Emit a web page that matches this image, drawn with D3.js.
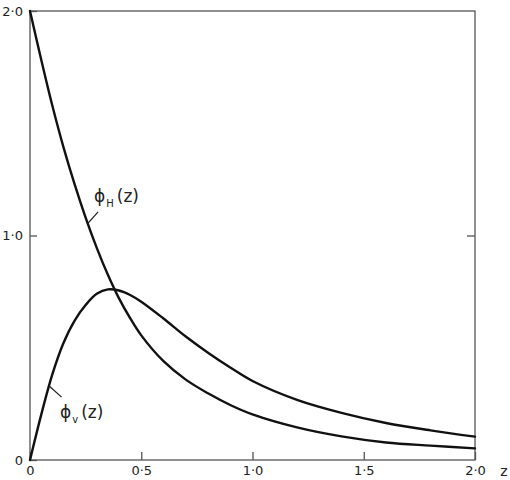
<!DOCTYPE html>
<html>
<head>
<meta charset="utf-8">
<script src="https://cdn.jsdelivr.net/npm/d3@7"></script>
<style>
  html, body { margin: 0; padding: 0; background: #fff; }
  svg { display: block; font-family: "DejaVu Sans", "Liberation Sans", sans-serif; }
</style>
</head>
<body>
<svg id="chart" width="510" height="480"></svg>
<script>
// ---- data ----
const zValues   = [0, 0.05, 0.1, 0.15, 0.2, 0.25, 0.3, 0.35, 0.4, 0.45, 0.5, 0.6, 0.7, 0.8, 0.9, 1.0, 1.2, 1.4, 1.6, 1.8, 2.0];
const phiH      = [2.0, 1.785, 1.58, 1.395, 1.23, 1.08, 0.945, 0.825, 0.72, 0.632, 0.555, 0.44, 0.358, 0.297, 0.245, 0.203, 0.145, 0.105, 0.078, 0.064, 0.052];
const phiV      = [0, 0.20, 0.38, 0.52, 0.62, 0.69, 0.74, 0.76, 0.755, 0.735, 0.705, 0.63, 0.55, 0.478, 0.412, 0.352, 0.268, 0.21, 0.165, 0.132, 0.104];
const xTicks    = [0, 0.5, 1.0, 1.5, 2.0];
const xTickText = ["0", "0·5", "1·0", "1·5", "2·0"];
const yTicks    = [0, 1.0, 2.0];
const yTickText = ["0", "1·0", "2·0"];
const xLabel    = "z";

// ---- layout ----
const svg = d3.select("#chart");
const mLeft = 30, mRight = 475, mTop = 11, mBottom = 460;
const x = d3.scaleLinear().domain([0, 2]).range([mLeft, mRight]);
const y = d3.scaleLinear().domain([0, 2]).range([mBottom, mTop]);

const axisColor = "#555";
const textColor = "#222";

// frame
svg.append("rect")
  .attr("x", mLeft).attr("y", mTop)
  .attr("width", mRight - mLeft).attr("height", mBottom - mTop)
  .attr("fill", "none").attr("stroke", axisColor).attr("stroke-width", 1.3);

// bottom axis
const xAxis = svg.append("g").attr("transform", `translate(0,${mBottom})`)
  .call(d3.axisBottom(x).tickValues(xTicks)
    .tickSizeInner(-8).tickSizeOuter(0).tickPadding(6)
    .tickFormat((d, i) => xTickText[i]));
xAxis.select(".domain").remove();
xAxis.selectAll("line").attr("stroke", axisColor).attr("stroke-width", 1.3);
xAxis.selectAll("text").attr("fill", textColor).attr("font-size", 13)
  .attr("font-family", "DejaVu Sans, sans-serif");

// left axis
const yAxis = svg.append("g").attr("transform", `translate(${mLeft},0)`)
  .call(d3.axisLeft(y).tickValues(yTicks)
    .tickSizeInner(-7).tickSizeOuter(0).tickPadding(7)
    .tickFormat((d, i) => yTickText[i]));
yAxis.select(".domain").remove();
yAxis.selectAll("line").attr("stroke", axisColor).attr("stroke-width", 1.3);
yAxis.selectAll("text").attr("fill", textColor).attr("font-size", 13)
  .attr("font-family", "DejaVu Sans, sans-serif");

// right axis tick
const rAxis = svg.append("g").attr("transform", `translate(${mRight},0)`)
  .call(d3.axisRight(y).tickValues([1.0])
    .tickSizeInner(-8).tickSizeOuter(0).tickFormat(""));
rAxis.select(".domain").remove();
rAxis.selectAll("line").attr("stroke", axisColor).attr("stroke-width", 1.3);

// z label
svg.append("text").attr("x", 504).attr("y", 476)
  .attr("text-anchor", "middle").attr("font-size", 14).attr("fill", textColor)
  .text(xLabel);

// curves
const line = d3.line().x(d => x(d[0])).y(d => y(d[1])).curve(d3.curveCatmullRom.alpha(0.5));
const seriesH = zValues.map((z, i) => [z, phiH[i]]);
const seriesV = zValues.map((z, i) => [z, phiV[i]]);
[seriesH, seriesV].forEach(s => {
  svg.append("path").datum(s).attr("d", line)
    .attr("fill", "none").attr("stroke", "#111").attr("stroke-width", 2.4)
    .attr("stroke-linejoin", "round").attr("stroke-linecap", "round");
});

// curve labels with leader lines
function curveLabel(tx, ty, sub, fromZ, fromV, toZ, toV) {
  const t = svg.append("text").attr("x", tx).attr("y", ty)
    .attr("font-size", 17).attr("fill", textColor);
  t.append("tspan").text("ϕ");
  t.append("tspan").text(sub).attr("font-size", 10).attr("dy", 5).attr("dx", 1);
  t.append("tspan").text("(z)").attr("dy", -5).attr("dx", 3);
  svg.append("line")
    .attr("x1", x(fromZ)).attr("y1", y(fromV))
    .attr("x2", x(toZ)).attr("y2", y(toV))
    .attr("stroke", "#222").attr("stroke-width", 1.3);
}
curveLabel(94, 202, "H", 0.306, 1.105, 0.261, 1.055);
curveLabel(60, 418, "v", 0.142, 0.28, 0.086, 0.33);
</script>
</body>
</html>
